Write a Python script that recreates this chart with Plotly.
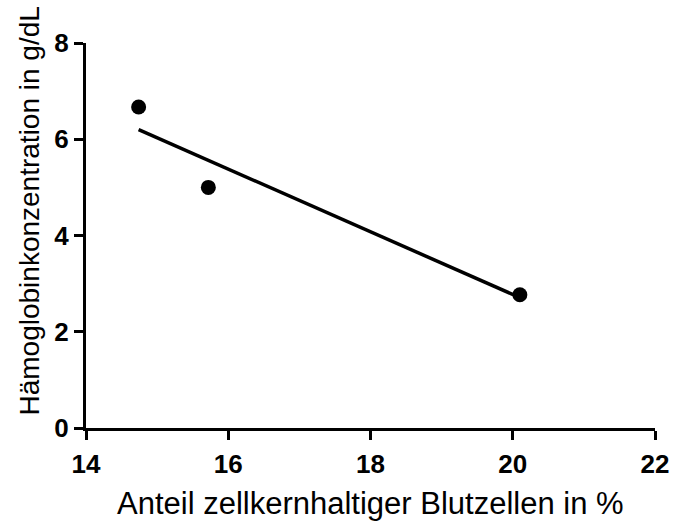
import plotly.graph_objects as go

# Data
cells_pct = [14.74, 15.72, 20.10]
hemoglobin = [6.67, 5.00, 2.77]
fit_x = [14.74, 20.10]
fit_y = [6.20, 2.71]
x_ticks = [14, 16, 18, 20, 22]
y_ticks = [0, 2, 4, 6, 8]

FONT = "Liberation Sans, Arial, sans-serif"

fig = go.Figure()
fig.add_trace(go.Scatter(x=fit_x, y=fit_y, mode="lines",
                         line=dict(color="black", width=3.5), showlegend=False))
fig.add_trace(go.Scatter(x=cells_pct, y=hemoglobin, mode="markers",
                         marker=dict(color="black", size=15), showlegend=False))

fig.update_layout(
    width=681, height=524,
    margin=dict(l=86, r=19, t=43, b=96),
    plot_bgcolor="white", paper_bgcolor="white",
    font=dict(family=FONT, color="black"),
    xaxis=dict(range=[14, 22], tickvals=x_ticks, showgrid=False, zeroline=False,
               showline=True, linecolor="black", linewidth=3,
               ticks="outside", ticklen=9, tickwidth=3, tickcolor="black",
               tickfont=dict(size=26, family=FONT, weight="bold"), ticklabelstandoff=2),
    yaxis=dict(range=[0, 8], tickvals=y_ticks, showgrid=False, zeroline=False,
               showline=True, linecolor="black", linewidth=3,
               ticks="outside", ticklen=9, tickwidth=3, tickcolor="black",
               tickfont=dict(size=26, family=FONT, weight="bold"), ticklabelstandoff=0),
    annotations=[
        dict(text="Anteil zellkernhaltiger Blutzellen in %", xref="paper", yref="paper",
             x=0.5, y=-0.197, xanchor="center", yanchor="middle", showarrow=False,
             font=dict(size=31, family=FONT)),
        dict(text="Hämoglobinkonzentration in g/dL", xref="paper", yref="paper",
             x=-0.099, y=0.564, xanchor="center", yanchor="middle", showarrow=False,
             textangle=-90, font=dict(size=28, family=FONT)),
    ],
)

fig.write_html("out.html")
